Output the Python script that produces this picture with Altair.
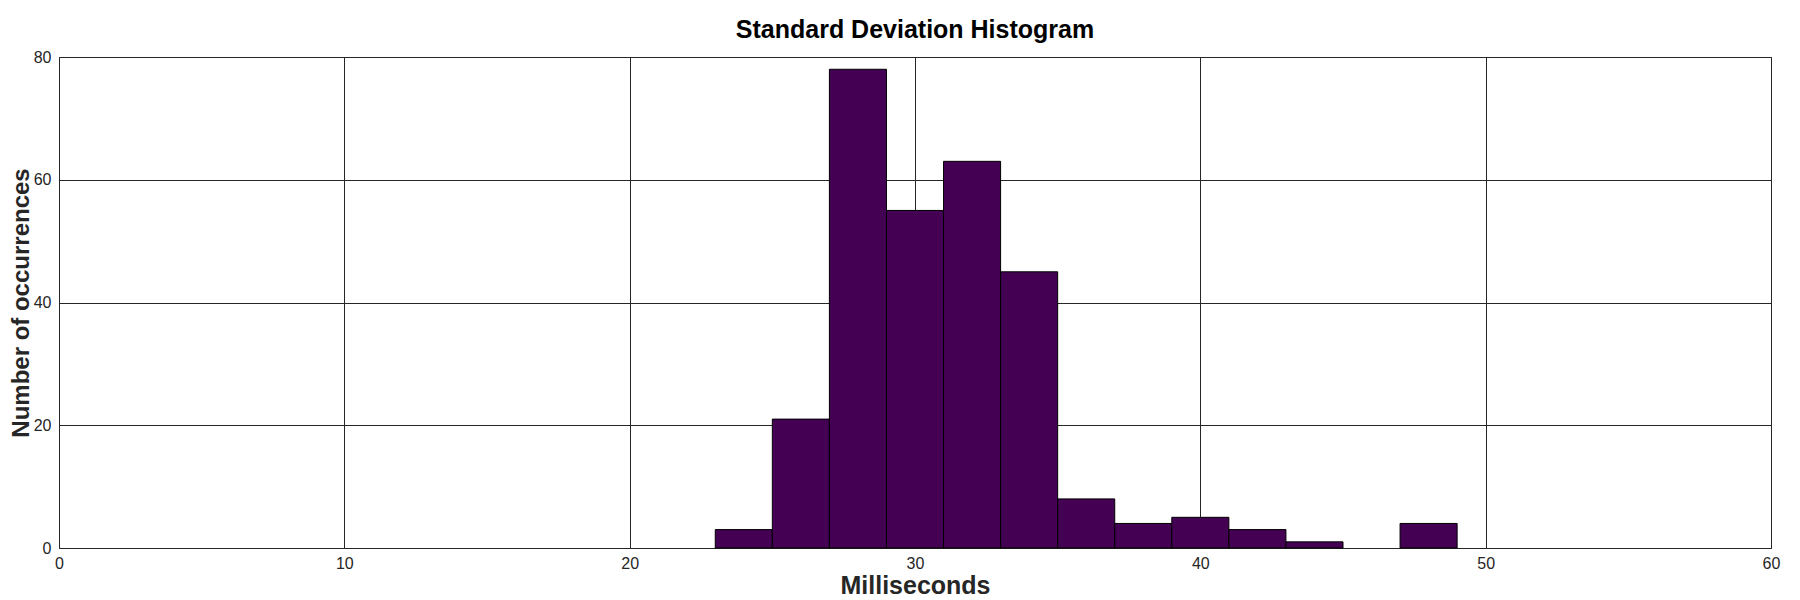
import altair as alt
import pandas as pd

bin_start = [23, 25, 27, 29, 31, 33, 35, 37, 39, 41, 43, 45, 47]
bin_end = [25, 27, 29, 31, 33, 35, 37, 39, 41, 43, 45, 47, 49]
counts = [3, 21, 78, 55, 63, 45, 8, 4, 5, 3, 1, 0, 4]

x_ticks = [0, 10, 20, 30, 40, 50, 60]
y_ticks = [0, 20, 40, 60, 80]

df = pd.DataFrame({"start": bin_start, "end": bin_end, "count": counts})
df = df[df["count"] > 0]

FONT = "Liberation Sans"
GRID = "#262626"

chart = alt.Chart(df).mark_rect(
    fill="#440154", stroke="#000000", strokeWidth=1
).encode(
    x=alt.X("start:Q",
            scale=alt.Scale(domain=[0, 60], nice=False, zero=False),
            axis=alt.Axis(values=x_ticks, title="Milliseconds", grid=True,
                          ticks=False, domain=False, labelPadding=7,
                          labelFlush=False,
                          titlePadding=2, titleFontSize=25)),
    x2="end:Q",
    y=alt.Y("count:Q",
            scale=alt.Scale(domain=[0, 80], nice=False),
            axis=alt.Axis(values=y_ticks, title="Number of occurrences", grid=True,
                          ticks=False, domain=False, labelPadding=8,
                          labelFlush=False,
                          titlePadding=0, titleFontSize=24)),
    y2=alt.datum(0),
).properties(
    width=1712,
    height=491,
    background="white",
    title=alt.TitleParams("Standard Deviation Histogram", fontSize=25,
                          font=FONT, fontWeight="bold", color="#000000",
                          anchor="middle", offset=6),
    autosize=alt.AutoSizeParams(type="none"),
    padding={"left": 51, "top": 49, "right": 20, "bottom": 52},
).configure_view(
    stroke=GRID, strokeWidth=1
).configure_axis(
    gridColor=GRID, gridOpacity=1, gridWidth=1,
    labelFont=FONT, labelFontSize=16, labelColor="#262626",
    titleFont=FONT, titleFontWeight="bold", titleColor="#262626",
)

chart.save("out.html", embed_options={"renderer": "svg", "actions": False})
